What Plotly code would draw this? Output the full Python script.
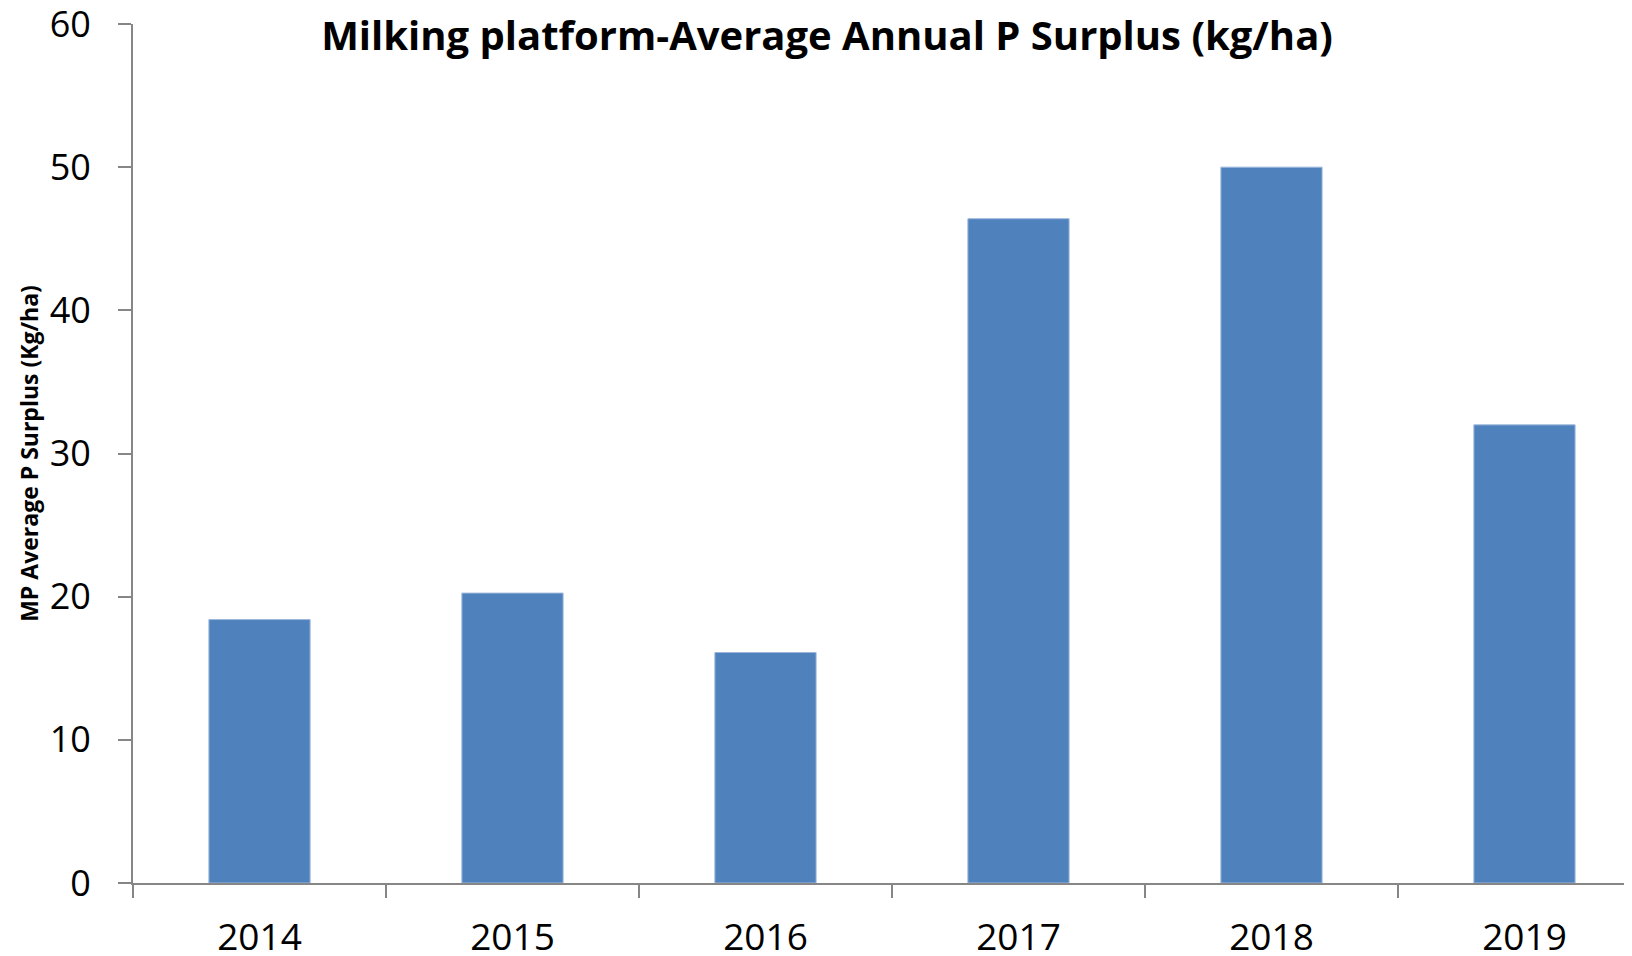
import plotly.graph_objects as go

years = ["2014", "2015", "2016", "2017", "2018", "2019"]
p_surplus = [18.4, 20.25, 16.1, 46.4, 50.0, 32.0]

axis_grey = "#868686"

fig = go.Figure()
fig.add_trace(go.Bar(
    x=years, y=p_surplus,
    width=0.4,
    marker=dict(color="#4F81BD", line=dict(color="#9DB7DC", width=1)),
))

# the page body adds an 8px offset, so margins are reduced to compensate
fig.update_layout(
    width=1632, height=956,
    margin=dict(l=125, r=8, t=16, b=81),
    plot_bgcolor="white", paper_bgcolor="white",
    font=dict(family="Open Sans", color="black"),
    showlegend=False,
    title=dict(
        text="<b>Milking platform-Average Annual P Surplus (kg/ha)</b>",
        x=819 / 1632, xanchor="center", xref="container",
        y=1 - 28 / 956, yanchor="middle", yref="container",
        font=dict(size=40, family="Open Sans"),
    ),
)

fig.update_xaxes(
    type="category",
    range=[-0.5, 5.425],
    automargin=False,
    showline=True, linecolor=axis_grey, linewidth=2,
    ticks="outside", tickson="boundaries", ticklen=13, tickwidth=2, tickcolor=axis_grey,
    tickfont=dict(size=37),
    ticklabelstandoff=21,
    showgrid=False, zeroline=False,
)

fig.update_yaxes(
    range=[0, 60], dtick=10,
    automargin=False,
    showline=True, linecolor=axis_grey, linewidth=2,
    ticks="outside", ticklen=13, tickwidth=2, tickcolor=axis_grey,
    tickfont=dict(size=36),
    ticklabelstandoff=20,
    ticklabeloverflow="allow",
    showgrid=False, zeroline=False,
    title=dict(text="<b>MP Average P Surplus (Kg/ha)</b>", font=dict(size=23), standoff=5),
)

fig.write_html("out.html")
